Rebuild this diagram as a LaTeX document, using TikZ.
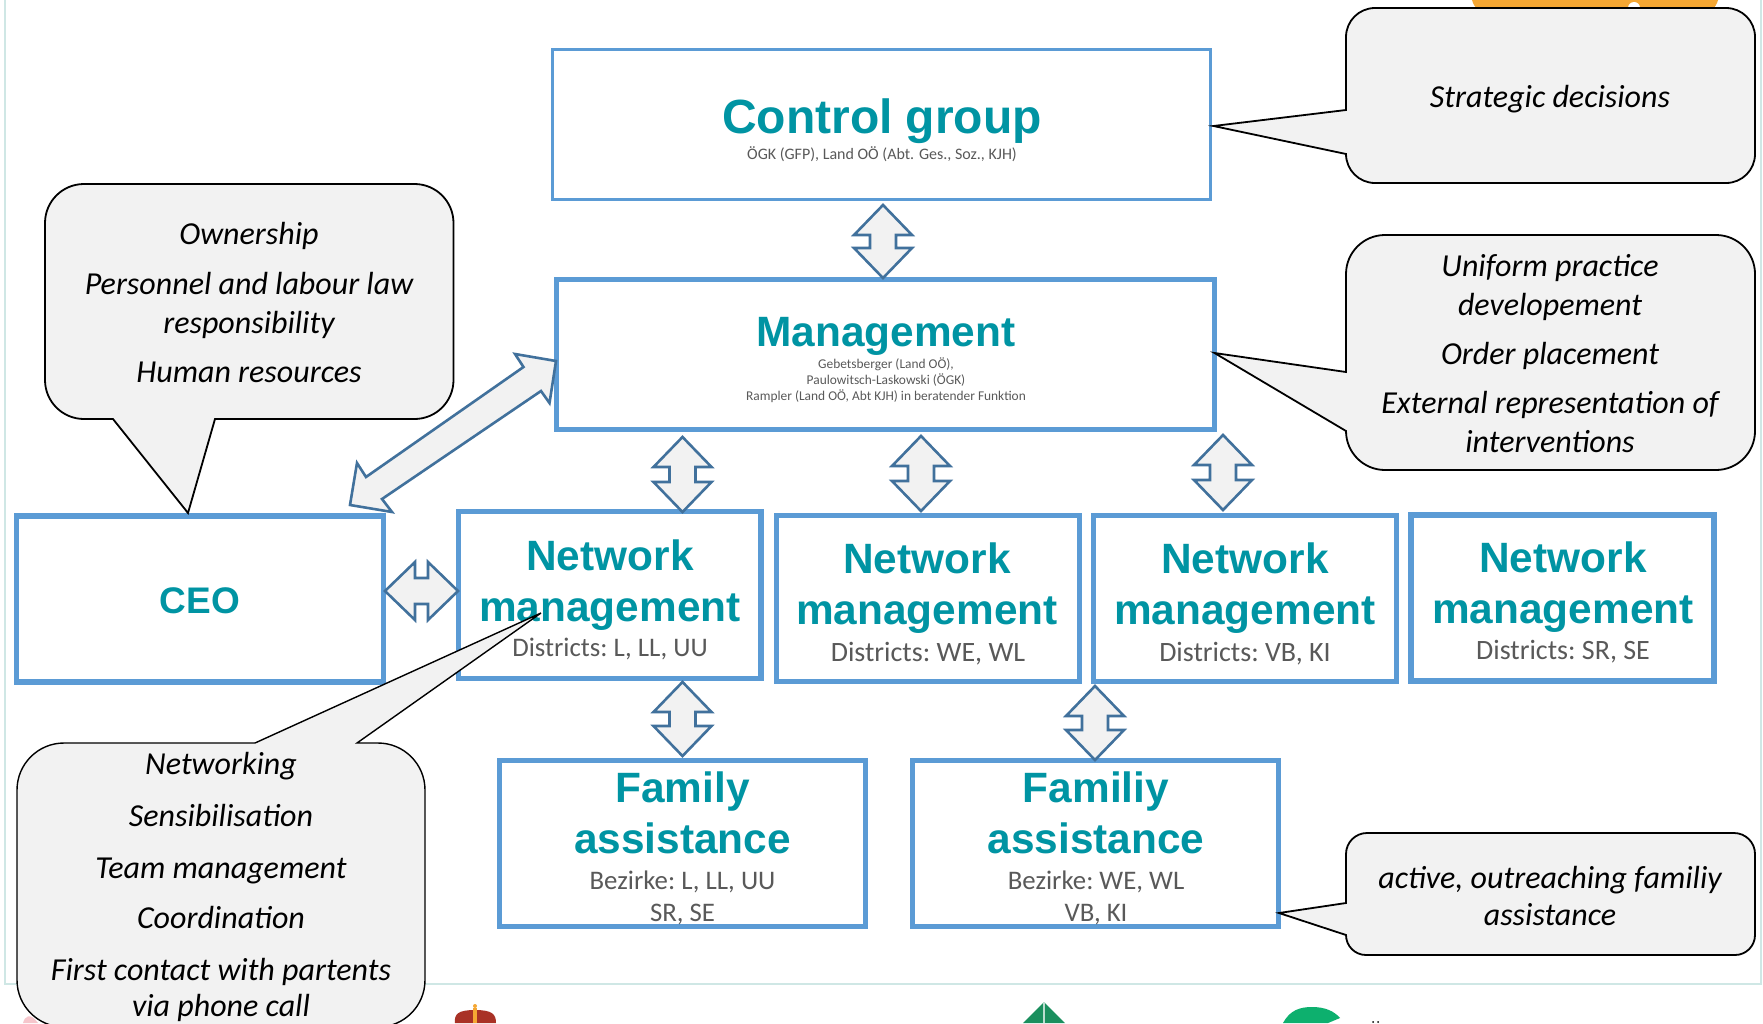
\documentclass[tikz,border=0pt]{standalone}
\usepackage{fontspec}
\setmainfont{Carlito}
\newfontfamily\headfont{Liberation Sans}[Ligatures=TeX]
\usetikzlibrary{calc}
\definecolor{boxblue}{HTML}{5B9BD5}
\definecolor{arrowblue}{HTML}{41719C}
\definecolor{softgrey}{HTML}{F2F2F2}
\definecolor{headteal}{HTML}{0094A3}
\definecolor{subgrey}{HTML}{595959}
\definecolor{framecol}{HTML}{CFE7E5}
\definecolor{orangecol}{HTML}{F5A733}
\definecolor{treegreen}{HTML}{1A8F5E}
\definecolor{logogreen}{HTML}{0DB06E}
\definecolor{crownred}{HTML}{A93226}
\definecolor{pinkcol}{HTML}{F6C6CC}
\tikzset{
  boxthick/.style={draw=boxblue,line width=5.8pt,fill=white,inner sep=0pt},
  boxthin/.style={draw=boxblue,line width=3pt,fill=white,inner sep=0pt},
  callout/.style={draw=black,line width=1.8pt,fill=softgrey,line join=miter},
  blockar/.style={draw=arrowblue,line width=2.6pt,fill=softgrey,line join=miter},
  headtxt/.style={font=\headfont\bfseries\fontsize{42.4}{50}\selectfont,text=headteal,inner sep=0pt,anchor=base},
  disttxt/.style={font=\frenchspacing\fontsize{26.8}{32}\selectfont,text=subgrey,inner sep=0pt,anchor=base},
  distbig/.style={font=\frenchspacing\fontsize{28}{33}\selectfont,text=subgrey,inner sep=0pt,anchor=base},
  smalltxt/.style={font=\fontsize{16}{19}\selectfont,text=subgrey,inner sep=0pt,anchor=base},
  tinytxt/.style={font=\fontsize{13.4}{16}\selectfont,text=subgrey,inner sep=0pt,anchor=base},
  calltxt/.style={font=\itshape\fontsize{32}{39}\selectfont,text=black,inner sep=0pt,anchor=base},
}
\newcommand{\blockarrow}[2]{%
  \coordinate (ha) at ($(#1)!30pt!(#2)$);
  \coordinate (hb) at ($(#2)!30pt!(#1)$);
  \draw[blockar] (#1) -- ($(ha)!29pt!90:(#2)$) -- ($(ha)!13pt!90:(#2)$)
    -- ($(hb)!13pt!-90:(#1)$) -- ($(hb)!29pt!-90:(#1)$) -- (#2)
    -- ($(hb)!29pt!90:(#1)$) -- ($(hb)!13pt!90:(#1)$)
    -- ($(ha)!13pt!-90:(#2)$) -- ($(ha)!29pt!-90:(#2)$) -- cycle;}
\begin{document}
\begin{tikzpicture}[x=1pt,y=-1pt]
\useasboundingbox (0,0) rectangle (1763,1023);
\clip (0,0) rectangle (1763,1023);
\fill[white] (0,0) rectangle (1763,1023);
% slide frame
\draw[framecol,line width=2.5pt] (5,0) -- (5,984) -- (1761,984) -- (1761,0);
% fragments of the slide's decoration
\fill[orangecol] (1472,0) .. controls (1473,4) and (1475,7) .. (1478,10) -- (1712,10) .. controls (1715,7) and (1717,4) .. (1718,0) -- cycle;
\fill[white] (1634,8) circle (6);
\fill[pinkcol] (23,1023) .. controls (25,1016) and (30,1012) .. (38,1023) -- cycle;
\fill[crownred] (455,1023) .. controls (454,1014) and (458,1010) .. (475,1010) .. controls (492,1010) and (496,1014) .. (496,1023) -- cycle;
\fill[orangecol] (475,1006) circle (2);
\fill[orangecol] (473,1008) rectangle (477,1023);
\fill[treegreen] (1044,1002) -- (1065,1023) -- (1023,1023) -- cycle;
\draw[white!70!treegreen,line width=1.5pt] (1044,1002) -- (1044,1023);
\fill[logogreen] (1283,1023) .. controls (1290,1010) and (1300,1007) .. (1312,1007) .. controls (1325,1007) and (1334,1011) .. (1340,1018) -- (1328,1023) -- cycle;
\fill[black] (1373,1022) circle (1) (1378,1022) circle (1);
% boxes
\node[boxthin,minimum width=658pt,minimum height=150pt] (ctrl) at (881.5,124.5) {};
\node[boxthick,minimum width=658pt,minimum height=150pt] (mgmt) at (885.5,354.5) {};
\node[boxthick,minimum width=367pt,minimum height=166pt] (ceo) at (200,599) {};
\node[boxthick,minimum width=302.5pt,minimum height=167pt] (neta) at (609.75,595) {};
\node[boxthick,minimum width=303pt,minimum height=166pt] (netb) at (928,598.5) {};
\node[boxthick,minimum width=303pt,minimum height=166pt] (netc) at (1245,598.5) {};
\node[boxthick,minimum width=303.5pt,minimum height=166.5pt] (netd) at (1562.5,598) {};
\node[boxthick,minimum width=366pt,minimum height=166pt] (fama) at (682.5,843.5) {};
\node[boxthick,minimum width=366pt,minimum height=166pt] (famb) at (1095.5,843.5) {};
% box texts
\node[headtxt,font=\headfont\bfseries\fontsize{48}{56}\selectfont] (ctrlt) at (882,133) {Control group};
\node[smalltxt] (ctrls) at (882,159) {ÖGK (GFP), Land OÖ (Abt. Ges., Soz., KJH)};
\node[headtxt] (mgmtt) at (886,346) {Management};
\node[tinytxt] (mgmta) at (886,368) {Gebetsberger (Land OÖ),};
\node[tinytxt] (mgmtb) at (886,384) {Paulowitsch-Laskowski (ÖGK)};
\node[tinytxt] (mgmtc) at (886,400) {Rampler (Land OÖ, Abt KJH) in beratender Funktion};
\node[headtxt,font=\headfont\bfseries\fontsize{37}{44}\selectfont] (ceot) at (200,613) {CEO};
\node[headtxt] (netat) at (610,570) {Network};
\node[headtxt] (netam) at (610,621) {management};
\node[disttxt] (netad) at (610,656) {Districts: L, LL, UU};
\node[headtxt] (netbt) at (927,573) {Network};
\node[headtxt] (netbm) at (927,624) {management};
\node[distbig] (netbd) at (928,661) {Districts: WE, WL};
\node[headtxt] (netct) at (1245,573) {Network};
\node[headtxt] (netcm) at (1245,624) {management};
\node[distbig] (netcd) at (1245,661) {Districts: VB, KI};
\node[headtxt] (netdt) at (1563,572) {Network};
\node[headtxt] (netdm) at (1563,623) {management};
\node[distbig] (netdd) at (1563,659) {Districts: SR, SE};
\node[headtxt] (famat) at (682.5,802) {Family};
\node[headtxt] (famam) at (682.5,853) {assistance};
\node[disttxt] (famad) at (682.5,889) {Bezirke: L, LL, UU};
\node[disttxt] (famae) at (682.5,921) {SR, SE};
\node[headtxt] (fambt) at (1096,802) {Familiy};
\node[headtxt] (fambm) at (1096,853) {assistance};
\node[disttxt] (fambd) at (1096,889) {Bezirke: WE, WL};
\node[disttxt] (fambe) at (1096,921) {VB, KI};
% block arrows between boxes
\coordinate (ctrlend) at (883,205);   \coordinate (mgmtend) at (883,278);
\blockarrow{ctrlend}{mgmtend}
\coordinate (mnA) at (682.5,437);     \coordinate (nAm) at (682.5,512);
\blockarrow{mnA}{nAm}
\coordinate (mnB) at (921,436);       \coordinate (nBm) at (921,511);
\blockarrow{mnB}{nBm}
\coordinate (mnC) at (1223,435);      \coordinate (nCm) at (1223,510);
\blockarrow{mnC}{nCm}
\coordinate (nAf) at (682.5,682);     \coordinate (fAn) at (682.5,756);
\blockarrow{nAf}{fAn}
\coordinate (nCf) at (1095,686);      \coordinate (fBn) at (1095,760);
\blockarrow{nCf}{fBn}
\coordinate (ceoR) at (385,591);      \coordinate (nAl) at (458,591);
\blockarrow{ceoR}{nAl}
% diagonal block arrow CEO <-> Management
\coordinate (diagM) at (556,361);
\coordinate (diagC) at (350,505);
\draw[blockar] (diagM) -- (515,354) -- (523.5,367) -- (366,477) -- (357,463)
  -- (diagC) -- (392,512) -- (382,499) -- (541,391) -- (549.5,403) -- cycle;
% callouts
\coordinate (tipctrl) at (1213.5,126);
\draw[callout] (1346,110) -- (1346,37) arc[start angle=180,end angle=90,radius=29pt]
  -- (1726,8) arc[start angle=90,end angle=0,radius=29pt]
  -- (1755,154) arc[start angle=0,end angle=-90,radius=29pt]
  -- (1375,183) arc[start angle=-90,end angle=-180,radius=29pt]
  -- (tipctrl) -- cycle;
\node[calltxt] (cAa) at (1550,107.5) {Strategic decisions};
\coordinate (tipmgmt) at (1214.5,353);
\draw[callout] (1346,372) -- (1346,274) arc[start angle=180,end angle=90,radius=39pt]
  -- (1716,235) arc[start angle=90,end angle=0,radius=39pt]
  -- (1755,431) arc[start angle=0,end angle=-90,radius=39pt]
  -- (1385,470) arc[start angle=-90,end angle=-180,radius=39pt]
  -- (tipmgmt) -- cycle;
\node[calltxt] (cBa) at (1550,276.5) {Uniform practice};
\node[calltxt] (cBb) at (1550,315.5) {developement};
\node[calltxt] (cBc) at (1550,364.5) {Order placement};
\node[calltxt] (cBd) at (1550,413.5) {External representation of};
\node[calltxt] (cBe) at (1550,452) {interventions};
\coordinate (tipfam) at (1279,913);
\draw[callout] (1346,903) -- (1346,854) arc[start angle=180,end angle=90,radius=21pt]
  -- (1734,833) arc[start angle=90,end angle=0,radius=21pt]
  -- (1755,935) arc[start angle=0,end angle=-90,radius=20pt]
  -- (1366,955) arc[start angle=-90,end angle=-180,radius=20pt]
  -- (tipfam) -- cycle;
\node[calltxt] (cCa) at (1550,888) {active, outreaching familiy};
\node[calltxt] (cCb) at (1550,925) {assistance};
\coordinate (tipceo) at (188,513);
\draw[callout] (113,419) -- (84,419) arc[start angle=-90,end angle=-180,radius=39pt]
  -- (45,223) arc[start angle=180,end angle=90,radius=39pt]
  -- (414.5,184) arc[start angle=90,end angle=0,radius=39pt]
  -- (453.5,380) arc[start angle=0,end angle=-90,radius=39pt]
  -- (215,419) -- (tipceo) -- cycle;
\node[calltxt] (cDa) at (249,244.5) {Ownership};
\node[calltxt] (cDb) at (249,294.5) {Personnel and labour law};
\node[calltxt] (cDc) at (249,333.5) {responsibility};
\node[calltxt] (cDd) at (249,382.5) {Human resources};
\coordinate (tipnet) at (541,613);
\draw[callout,line width=1.4pt] (357,743) -- (378,743) arc[start angle=90,end angle=0,radius=47pt]
  -- (425,980) arc[start angle=0,end angle=-90,radius=47pt]
  -- (64,1027) arc[start angle=-90,end angle=-180,radius=47pt]
  -- (17,790) arc[start angle=180,end angle=90,radius=47pt]
  -- (255,743) -- (tipnet) -- cycle;
\node[calltxt] (cEa) at (221,774.5) {Networking};
\node[calltxt] (cEb) at (221,826.5) {Sensibilisation};
\node[calltxt] (cEc) at (221,878.5) {Team management};
\node[calltxt] (cEd) at (221,928.5) {Coordination};
\node[calltxt] (cEe) at (221,980) {First contact with partents};
\node[calltxt] (cEf) at (221,1016.5) {via phone call};
\end{tikzpicture}
\end{document}
